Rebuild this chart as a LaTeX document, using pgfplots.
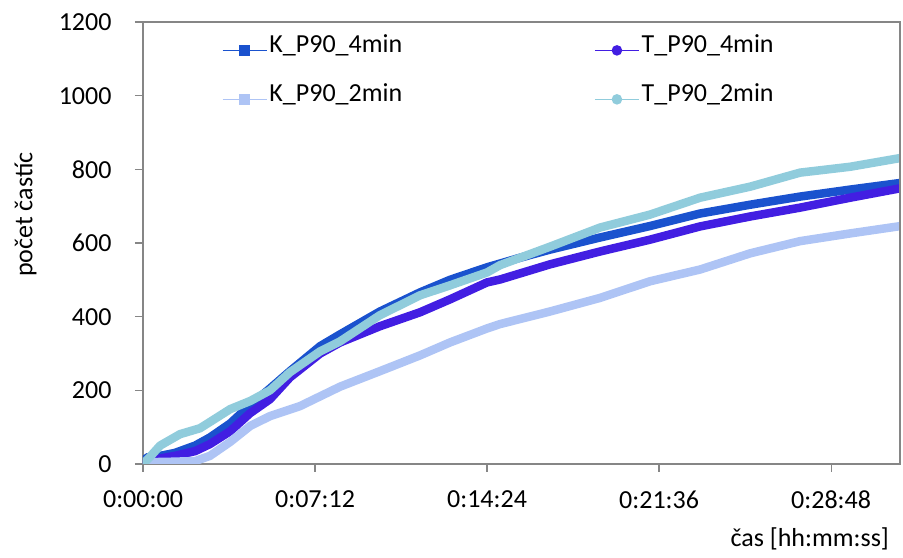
\documentclass[border=0pt]{standalone}
\usepackage{fontspec}
\setmainfont{Carlito}
\usepackage{pgfplots}
\pgfplotsset{compat=1.18}
\definecolor{kfour}{RGB}{26,82,206}
\definecolor{tfour}{RGB}{66,30,226}
\definecolor{ktwo}{RGB}{174,196,245}
\definecolor{ttwo}{RGB}{144,204,220}
\definecolor{axgray}{RGB}{134,134,134}
\newcommand{\bigf}{\fontsize{26bp}{31bp}\selectfont}
\begin{document}
\begin{tikzpicture}[x=1bp,y=1bp]
\useasboundingbox (-143,-94) rectangle (760,464);
\begin{axis}[
  name=ax,
  at={(0,0)}, anchor=south west,
  scale only axis, width=757bp, height=442bp,
  xmin=0, xmax=1901, ymin=0, ymax=1200,
  axis lines=box,
  axis line style={axgray, line width=1.2bp},
  tick style={axgray, line width=1.2bp},
  major tick length=8bp, tick align=outside,
  xtick pos=bottom, ytick pos=left,
  xtick={0,432,864,1296,1728},
  xticklabels={0:00:00,0:07:12,0:14:24,0:21:36,0:28:48},
  ytick={0,200,400,600,800,1000,1200},
  yticklabels={0,200,400,600,800,1000,1200},
  tick label style={font=\bigf, text=black},
  xticklabel style={yshift=-15bp},
  yticklabel style={xshift=-20bp},
  xlabel={čas [hh:mm:ss]},
  ylabel={počet častíc},
  label style={font=\bigf},
  xlabel style={at={(rel axis cs:0.99,-0.17)}, anchor=east},
  ylabel style={at={(rel axis cs:-0.155,0.564)}, anchor=center},
  clip mode=individual,
  legend columns=2,
  legend style={at={(0.104,0.952)}, anchor=north west, draw=none, fill=none,
    inner sep=0pt, font=\bigf, row sep=35bp,
    nodes={inner sep=2bp, text height=0.75em, text depth=0.25em}},
  /tikz/every even column/.append style={column sep=190bp},
  legend image code/.code={\draw[mark repeat=2,mark phase=2,#1] plot coordinates {(0bp,0bp) (22bp,0bp) (44bp,0bp)};},
]
\addplot[kfour, line width=8.5bp, line join=round, forget plot] coordinates {
(0,0) (10,18) (43,22) (80,30) (131,50) (168,72) (219,110) (269,160) (319,205)
(369,252) (445,320) (495,352) (595,414) (696,466) (771,500) (864,534) (947,560)
(1022,582) (1148,615) (1273,646) (1399,680) (1525,704) (1650,726) (1776,745) (1909,764)};
\addplot[tfour, line width=8.5bp, line join=round, forget plot] coordinates {
(0,0) (43,15) (80,22) (131,35) (168,54) (219,89) (269,138) (319,176) (369,235)
(445,300) (495,330) (595,374) (696,412) (771,447) (864,493) (897,501) (1022,542)
(1148,577) (1273,609) (1399,645) (1525,672) (1650,696) (1776,723) (1909,750)};
\addplot[ktwo, line width=8.5bp, line join=round, forget plot] coordinates {
(0,0) (18,5) (68,6) (131,8) (168,22) (219,60) (269,103) (319,130) (394,157)
(495,210) (595,252) (696,295) (771,330) (864,368) (897,380) (1022,414) (1148,451)
(1273,496) (1399,528) (1525,572) (1650,605) (1776,626) (1909,647)};
\addplot[ttwo, line width=8.5bp, line join=round, forget plot] coordinates {
(0,0) (18,20) (43,50) (93,81) (143,97) (168,114) (219,149) (269,171) (319,200)
(369,249) (445,306) (495,333) (595,404) (696,458) (771,485) (864,520) (897,540)
(1022,590) (1148,642) (1273,677) (1399,723) (1525,753) (1650,791) (1776,807) (1909,832)};
\addlegendimage{kfour, line width=1.5bp, mark=square*, mark size=4.5bp}
\addlegendentry{K\_P90\_4min}
\addlegendimage{tfour, line width=1.5bp, mark=*, mark size=4.5bp}
\addlegendentry{T\_P90\_4min}
\addlegendimage{ktwo, line width=1.5bp, mark=square*, mark size=4.5bp}
\addlegendentry{K\_P90\_2min}
\addlegendimage{ttwo, line width=1.5bp, mark=*, mark size=4.5bp}
\addlegendentry{T\_P90\_2min}
\end{axis}
\draw[axgray, line width=2bp] (ax.north west) -- (ax.north east) -- (ax.south east);
\end{tikzpicture}
\end{document}
